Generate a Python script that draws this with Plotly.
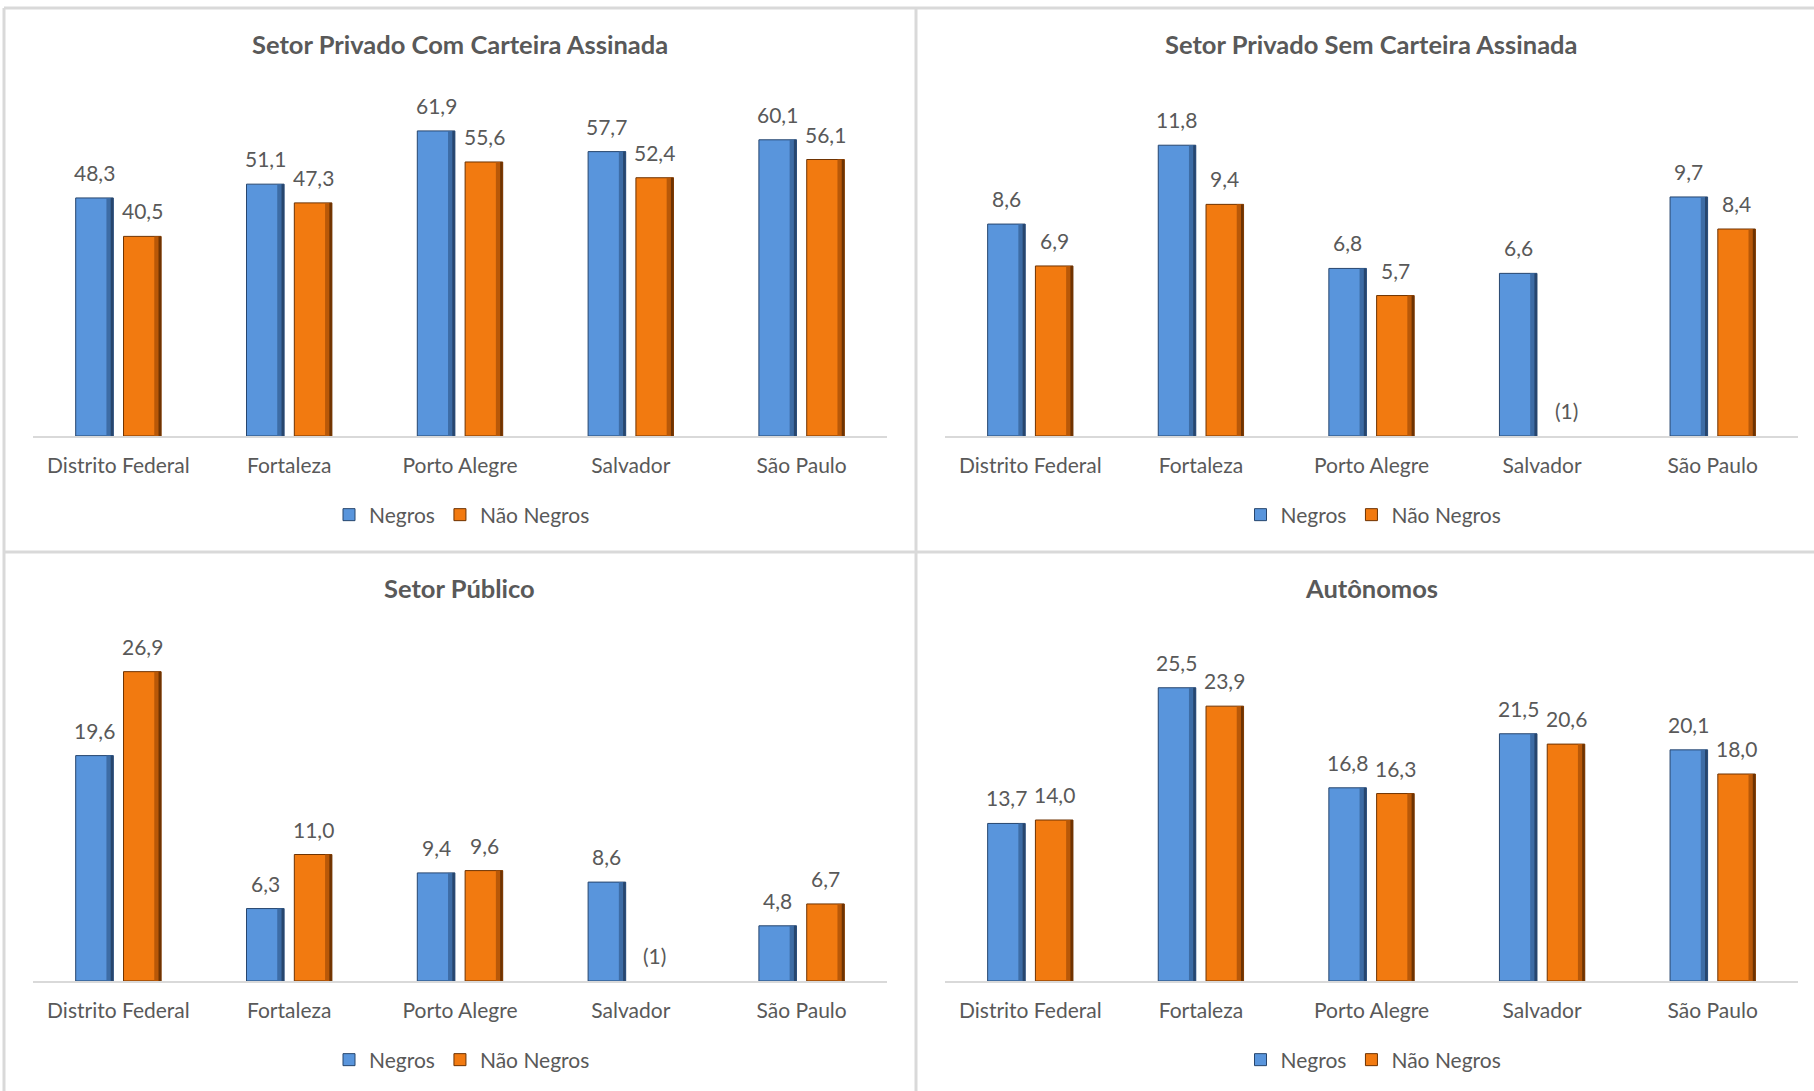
import plotly.graph_objects as go

# Cities (categories) shared by all four panels
cidades = ["Distrito Federal", "Fortaleza", "Porto Alegre", "Salvador", "São Paulo"]

# Panel titles
titulos = [
    "Setor Privado Com Carteira Assinada",
    "Setor Privado Sem Carteira Assinada",
    "Setor Público",
    "Autônomos",
]

# Series values per panel (None = not available, shown as footnote "(1)")
com_carteira_negros = [48.3, 51.1, 61.9, 57.7, 60.1]
com_carteira_nao_negros = [40.5, 47.3, 55.6, 52.4, 56.1]

sem_carteira_negros = [8.6, 11.8, 6.8, 6.6, 9.7]
sem_carteira_nao_negros = [6.9, 9.4, 5.7, None, 8.4]

publico_negros = [19.6, 6.3, 9.4, 8.6, 4.8]
publico_nao_negros = [26.9, 11.0, 9.6, None, 6.7]

autonomos_negros = [13.7, 25.5, 16.8, 21.5, 20.1]
autonomos_nao_negros = [14.0, 23.9, 16.3, 20.6, 18.0]

# Value-axis maxima for each panel
y_max = [70, 14, 30, 30]

W, H = 1814, 1091
TEXT = "#595959"
FONT = "Lato"
GRID = "#D9D9D9"

BLUE_FACE, BLUE_SHADE, BLUE_EDGE = "#5995DC", "#3D6CA5", "#27466E"
ORANGE_FACE, ORANGE_SHADE, ORANGE_EDGE = "#F27A10", "#B85808", "#6E3302"

panels = [
    (com_carteira_negros, com_carteira_nao_negros),
    (sem_carteira_negros, sem_carteira_nao_negros),
    (publico_negros, publico_nao_negros),
    (autonomos_negros, autonomos_nao_negros),
]


def px_x(p):
    return p / W


def px_y(p):
    return 1 - p / H


# Plot areas in pixels: (left, right, baseline, top)
areas = [
    (33, 887, 436, 91),
    (945, 1798, 436, 91),
    (33, 887, 981, 636),
    (945, 1798, 981, 636),
]
legend_y = [515, 515, 1060, 1060]
title_y = [44, 44, 588, 588]

fig = go.Figure()

# bar geometry in category units: (offset, width) for face, shade, edge strips
geom = {
    "neg": [(-0.25, 0.22), (-0.07, 0.04), (-0.045, 0.015)],
    "nao": [(0.03, 0.22), (0.21, 0.04), (0.235, 0.015)],
}
colors = {
    "neg": (BLUE_FACE, BLUE_SHADE, BLUE_EDGE),
    "nao": (ORANGE_FACE, ORANGE_SHADE, ORANGE_EDGE),
}
names = {"neg": "Negros", "nao": "Não Negros"}

annotations = []
layout_axes = {}
legends = {}

for i, (neg, nao) in enumerate(panels):
    sfx = "" if i == 0 else str(i + 1)
    xa, ya = "x" + sfx, "y" + sfx
    leg = "legend" + sfx
    for key, vals in (("neg", neg), ("nao", nao)):
        for j, ((off, wid), col) in enumerate(zip(geom[key], colors[key])):
            fig.add_trace(go.Bar(
                x=cidades, y=vals, xaxis=xa, yaxis=ya,
                offset=off, width=wid,
                marker=dict(color=col,
                            line=dict(color=colors[key][2], width=1 if j == 0 else 0)),
                name=names[key], showlegend=(j == 0), legend=leg,
                hoverinfo="skip",
            ))
        # data labels
        shift = -24 if key == "neg" else 24
        for c, v in zip(cidades, vals):
            annotations.append(dict(
                x=c, y=v if v is not None else 0, xref=xa, yref=ya,
                text=(f"{v:.1f}".replace(".", ",") if v is not None else "(1)"),
                showarrow=False, xshift=shift, yshift=11, yanchor="bottom",
                font=dict(family=FONT, size=21, color=TEXT),
            ))

    left, right, base, top = areas[i]
    layout_axes["xaxis" + sfx] = dict(
        domain=[px_x(left), px_x(right)], anchor=ya,
        type="category", showgrid=False, zeroline=False,
        showline=True, linecolor=GRID, linewidth=1.5,
        ticks="", ticklabelstandoff=10,
        tickfont=dict(family=FONT, size=21, color=TEXT),
        fixedrange=True,
    )
    layout_axes["yaxis" + sfx] = dict(
        domain=[px_y(base), px_y(top)], anchor=xa,
        range=[0, y_max[i]], visible=False, fixedrange=True,
    )
    cx = (left + right) / 2
    legends[leg] = dict(
        orientation="h", x=px_x(cx + 2), y=px_y(legend_y[i]),
        xanchor="center", yanchor="middle",
        font=dict(family=FONT, size=21, color=TEXT),
        itemwidth=30, bgcolor="rgba(0,0,0,0)",
    )
    annotations.append(dict(
        x=px_x(cx), y=px_y(title_y[i]), xref="paper", yref="paper",
        text=f"<b>{titulos[i]}</b>", showarrow=False,
        xanchor="center", yanchor="middle",
        font=dict(family=FONT, size=25.5, color=TEXT),
    ))

# Panel frames
frame = dict(type="line", xref="paper", yref="paper",
             line=dict(color=GRID, width=3), layer="below")
shapes = [
    dict(frame, x0=px_x(4), x1=1, y0=px_y(8), y1=px_y(8)),
    dict(frame, x0=px_x(4), x1=px_x(4), y0=px_y(8), y1=0),
    dict(frame, x0=px_x(916), x1=px_x(916), y0=px_y(8), y1=0),
    dict(frame, x0=px_x(4), x1=1, y0=px_y(552), y1=px_y(552)),
]

fig.update_layout(
    width=W, height=H,
    margin=dict(l=0, r=0, t=0, b=0),
    paper_bgcolor="white", plot_bgcolor="white",
    barmode="overlay",
    annotations=annotations,
    shapes=shapes,
    **layout_axes,
    **legends,
)

fig.write_html("out.html")
